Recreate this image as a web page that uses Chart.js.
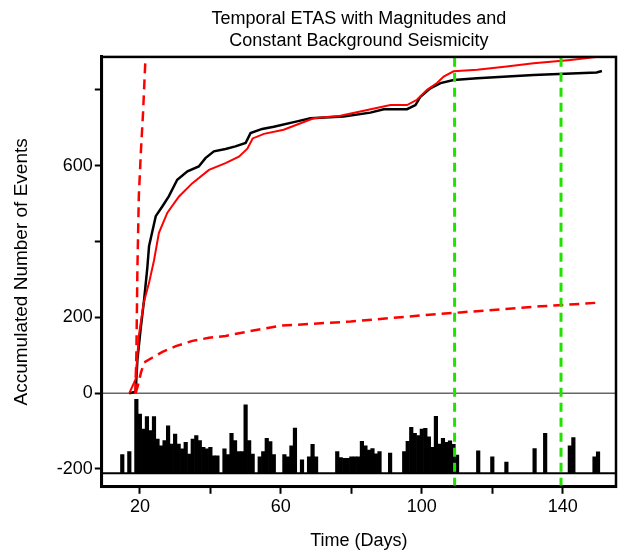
<!DOCTYPE html>
<html>
<head>
<meta charset="utf-8">
<script src="https://cdn.jsdelivr.net/npm/chart.js@4.4.1/dist/chart.umd.min.js"></script>
<style>
  html, body { margin: 0; padding: 0; background: #fff; }
  #wrap { width: 621px; height: 557px; }
</style>
</head>
<body>
<div id="wrap"><canvas id="etas"></canvas></div>
<script>
// axis ranges and ticks
const xMin = 9.2, xMax = 155.1;
const yMin = -247, yMax = 887;
const xTickValues = [20, 40, 60, 80, 100, 120, 140];
const xLabelValues = [20, 60, 100, 140];
const yTickValues = [-200, 0, 200, 400, 600, 800];
const yLabelValues = [-200, 0, 200, 600];

// observed cumulative number of events (black)
const obsDays  = [17.0, 18.8, 19.3, 20.2, 21.2, 22.1, 22.6, 24.5, 26.4, 28.2, 30.6, 33.5, 36.7, 38.6, 41.0, 44.3, 47.1, 50.0, 51.4, 54.7, 58.0, 64.6, 68.4, 77.8, 85.4, 89.2, 95.8, 98.2, 99.6, 102.4, 105.3, 109.0, 115.7, 131.7, 149.6, 151.1];
const obsCount = [0, 4, 89, 168, 247, 330, 388, 467, 493, 519, 563, 585, 598, 620, 638, 644, 651, 660, 686, 697, 703, 717, 725, 730, 740, 749, 749, 760, 782, 804, 818, 826, 831, 839, 846, 850];

// ETAS model with magnitudes (red solid)
const modelDays  = [17.0, 18.8, 19.7, 21.1, 22.6, 24.0, 25.4, 27.8, 31.1, 34.9, 39.6, 44.3, 48.1, 50.5, 52.0, 55.2, 60.8, 65.6, 69.3, 76.9, 84.5, 91.1, 95.8, 98.6, 101.5, 104.3, 106.2, 109.0, 115.7, 124.1, 131.7, 142.2, 148.8, 150.7];
const modelCount = [0, 37, 151, 239, 291, 350, 423, 476, 519, 554, 589, 607, 624, 645, 672, 684, 695, 712, 725, 732, 747, 760, 760, 774, 800, 818, 835, 849, 853, 862, 870, 879, 886, 888];

// dashed red curves
const steepDays  = [18.7, 19.0, 19.3, 19.7, 20.3, 20.9, 21.6, 22.2];
const steepCount = [0, 100, 330, 520, 640, 740, 887, 1000];
const gentleDays  = [18.8, 19.4, 20.3, 21.2, 23.6, 26.4, 30.2, 34.9, 39.6, 44.3, 51.4, 60.0, 79.8, 99.6, 110.9, 133.6, 150.6];
const gentleCount = [0, 19, 54, 81, 94, 109, 124, 138, 146, 151, 164, 178, 189, 205, 213, 229, 239];

// daily event histogram, drawn up from a baseline
const barBase = -211;
const barDays = [15, 17, 19, 20, 21, 22, 23, 24, 25, 26, 27, 28, 29, 30, 31, 32, 33, 34, 35, 36, 37, 38, 39, 40, 41, 42,
  44, 45, 46, 47, 48, 49, 50, 51, 52, 54, 55, 56, 57, 58, 61, 62, 63, 64, 66, 68, 69, 70,
  76, 77, 78, 79, 80, 81, 82, 83, 84, 85, 86, 87, 88, 91, 95, 96, 97, 98, 99, 100, 101, 102, 103, 104, 105, 106, 107, 108, 109, 110,
  116, 120, 124, 132, 135, 142, 143, 149, 150];
const barTops = [-162, -154, -16, -55, -95, -62, -99, -62, -121, -139, -125, -86, -134, -108, -134, -147, -130, -161, -121, -112, -125, -143, -147, -143, -165, -165,
  -147, -162, -106, -125, -154, -154, -31, -125, -161, -168, -154, -119, -128, -162, -162, -168, -139, -92, -176, -168, -135, -168,
  -154, -170, -172, -172, -168, -168, -168, -127, -139, -150, -146, -160, -154, -158, -154, -127, -90, -106, -112, -95, -93, -115, -143, -61, -134, -119, -130, -126, -135, -163,
  -152, -168, -182, -146, -106, -139, -117, -168, -155];

// forecast marker days (green dashed)
const markerDays = [109.3, 139.5];

const pts = (xs, ys) => xs.map((x, i) => ({ x: x, y: ys[i] }));

const lineDs = (label, data, color, width, dash, order) => ({
  type: 'line', label: label, data: data,
  borderColor: color, borderWidth: width, borderDash: dash || [],
  pointRadius: 0, tension: 0, fill: false, order: order
});

const datasets = [
  {
    type: 'bar', label: 'Daily events',
    data: barDays.map((d, i) => ({ x: d, y: [barBase, barTops[i]] })),
    backgroundColor: '#000', borderWidth: 0,
    barPercentage: 1, categoryPercentage: 1, order: 10
  },
  lineDs('zero', [{ x: xMin, y: 0 }, { x: xMax, y: 0 }], '#666', 1.5, null, 9),
  lineDs('base', [{ x: xMin, y: barBase }, { x: xMax, y: barBase }], '#000', 2, null, 8),
  lineDs('Observed', pts(obsDays, obsCount), '#000', 2.5, null, 5),
  lineDs('ETAS', pts(modelDays, modelCount), '#ff0000', 2, null, 4),
  lineDs('steep', pts(steepDays, steepCount), '#ff0000', 2.5, [10, 6], 3),
  lineDs('gentle', pts(gentleDays, gentleCount), '#ff0000', 2.5, [10, 6], 3)
];
markerDays.forEach(d => {
  datasets.push(lineDs('marker', [{ x: d, y: yMin }, { x: d, y: yMax }], '#22e000', 3, [9, 6], 1));
});

const framePlugin = {
  id: 'frame',
  afterDatasetsDraw(chart) {
    const a = chart.chartArea, ctx = chart.ctx;
    ctx.save();
    ctx.strokeStyle = '#000';
    ctx.lineWidth = 2.5;
    ctx.strokeRect(a.left, a.top, a.right - a.left, a.bottom - a.top);
    ctx.restore();
  }
};

const fontFam = "'Liberation Sans', Arial, sans-serif";

new Chart(document.getElementById('etas'), {
  type: 'line',
  data: { datasets: datasets },
  plugins: [framePlugin],
  options: {
    responsive: true,
    maintainAspectRatio: false,
    animation: false,
    events: [],
    layout: { padding: { left: 4, right: 5, top: 0, bottom: 5 } },
    plugins: {
      legend: { display: false },
      tooltip: { enabled: false },
      title: {
        display: true,
        fullSize: false,
        text: ['Temporal ETAS with Magnitudes and', 'Constant Background Seismicity'],
        color: '#000',
        font: { family: fontFam, size: 18, weight: 'normal', lineHeight: 1.22 },
        padding: { top: 8, bottom: 5 }
      }
    },
    scales: {
      x: {
        type: 'linear', min: xMin, max: xMax, offset: false,
        afterBuildTicks: s => { s.ticks = xTickValues.map(v => ({ value: v })); },
        ticks: {
          autoSkip: false, maxRotation: 0, padding: 2, color: '#000',
          font: { family: fontFam, size: 18 },
          callback: v => xLabelValues.includes(v) ? String(v) : ''
        },
        grid: { offset: false, drawOnChartArea: false, drawTicks: true, tickLength: 7, tickWidth: 2, tickColor: '#000' },
        border: { display: true, color: '#000', width: 3 },
        title: {
          display: true, text: 'Time (Days)', color: '#000',
          font: { family: fontFam, size: 18 }, padding: { top: 11, bottom: 0 }
        }
      },
      y: {
        type: 'linear', min: yMin, max: yMax,
        afterBuildTicks: s => { s.ticks = yTickValues.map(v => ({ value: v })); },
        ticks: {
          autoSkip: false, padding: 2, color: '#000',
          font: { family: fontFam, size: 18 },
          callback: v => yLabelValues.includes(v) ? String(v) : ''
        },
        grid: { offset: false, drawOnChartArea: false, drawTicks: true, tickLength: 7, tickWidth: 2, tickColor: '#000' },
        border: { display: true, color: '#000', width: 3 },
        title: {
          display: true, text: 'Accumulated Number of Events', color: '#000',
          font: { family: fontFam, size: 19 }, padding: { top: 6, bottom: 22 }
        }
      }
    }
  }
});
</script>
</body>
</html>
